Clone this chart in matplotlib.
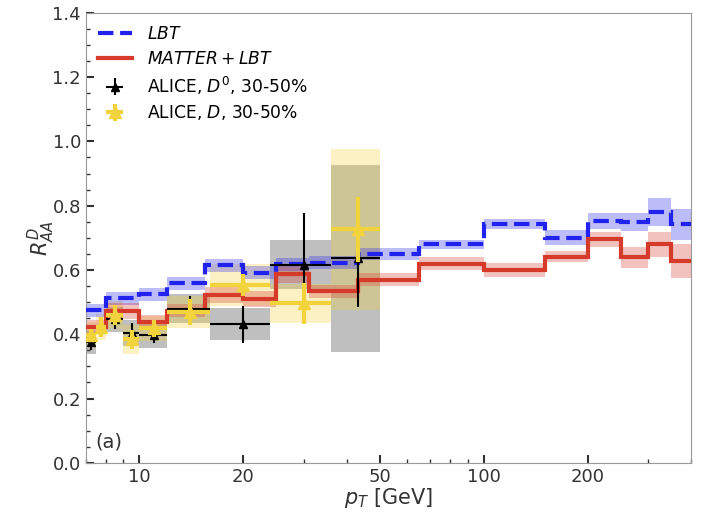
import numpy as np
import matplotlib.pyplot as plt
from matplotlib.ticker import FixedLocator, NullFormatter, MultipleLocator

# model bins (pT edges, GeV)
edges = np.array([7, 8, 10, 12, 15.5, 20, 25, 31, 43, 65, 100, 150, 200, 250, 300, 350, 400])

# LBT
lbt = np.array([0.475, 0.512, 0.525, 0.559, 0.615, 0.592, 0.618, 0.622, 0.649, 0.68,
                0.743, 0.701, 0.753, 0.749, 0.781, 0.742])
lbt_err = np.array([0.02, 0.02, 0.02, 0.02, 0.02, 0.02, 0.02, 0.02, 0.018, 0.014,
                    0.016, 0.022, 0.025, 0.027, 0.043, 0.049])

# MATTER+LBT
mlbt = np.array([0.423, 0.471, 0.439, 0.473, 0.522, 0.511, 0.586, 0.534, 0.570, 0.62,
                 0.60, 0.641, 0.695, 0.639, 0.68, 0.628])
mlbt_err = np.array([0.02, 0.025, 0.02, 0.02, 0.025, 0.025, 0.025, 0.02, 0.02, 0.021,
                     0.023, 0.017, 0.022, 0.034, 0.039, 0.054])

# ALICE D0 30-50%
d0_pt = np.array([7.25, 8.5, 9.5, 11, 14, 20, 30, 43])
d0_lo = np.array([7, 8, 9, 10, 12, 16, 24, 36])
d0_hi = np.array([7.5, 9, 10, 12, 16, 24, 36, 50])
d0_val = np.array([0.375, 0.446, 0.405, 0.397, 0.48, 0.431, 0.617, 0.636])
d0_stat = np.array([0.025, 0.03, 0.03, 0.025, 0.04, 0.057, 0.16, 0.15])
d0_sys = np.array([0.035, 0.04, 0.04, 0.04, 0.045, 0.05, 0.075, 0.29])

# ALICE D 30-50%
d_pt = np.array([7.25, 7.75, 8.5, 9.5, 11, 14, 20, 30, 43])
d_lo = np.array([7, 7.5, 8, 9, 10, 12, 16, 24, 36])
d_hi = np.array([7.5, 8, 9, 10, 12, 16, 24, 36, 50])
d_val = np.array([0.397, 0.423, 0.46, 0.384, 0.418, 0.47, 0.553, 0.496, 0.726])
d_stat = np.array([0.02, 0.03, 0.03, 0.03, 0.025, 0.04, 0.034, 0.065, 0.1])
d_sys = np.array([0.04, 0.04, 0.045, 0.045, 0.04, 0.05, 0.065, 0.06, 0.25])

blue = '#2222ee'
red = '#d63a2a'
gold = '#f2d33c'

fig = plt.figure(figsize=(7.04, 5.12), dpi=100)
ax = fig.add_axes([0.122, 0.096, 0.86, 0.879])
ax.set_xscale('log')

# data systematics boxes
ax.bar(d0_lo, 2 * d0_sys, width=d0_hi - d0_lo, bottom=d0_val - d0_sys, align='edge',
       color='gray', alpha=0.5, linewidth=0, zorder=1)
ax.bar(d_lo, 2 * d_sys, width=d_hi - d_lo, bottom=d_val - d_sys, align='edge',
       color=gold, alpha=0.3, linewidth=0, zorder=1)

# model bands
ax.stairs(lbt + lbt_err, edges, baseline=lbt - lbt_err, fill=True,
          color=blue, alpha=0.3, linewidth=0, zorder=2)
ax.stairs(mlbt + mlbt_err, edges, baseline=mlbt - mlbt_err, fill=True,
          color=red, alpha=0.3, linewidth=0, zorder=2)

ax.stairs(lbt, edges, baseline=None, color=blue, linestyle='--', linewidth=3,
          label='$LBT$', zorder=4)
ax.stairs(mlbt, edges, baseline=None, color=red, linewidth=3,
          label='$MATTER+LBT$', zorder=4)

ax.errorbar(d0_pt, d0_val, yerr=d0_stat, xerr=[d0_pt - d0_lo, d0_hi - d0_pt],
            fmt='^', color='k', ms=6, elinewidth=1.5, capsize=0, zorder=5,
            label='ALICE, $D^0$, 30-50%')
ax.errorbar(d_pt, d_val, yerr=d_stat, xerr=[d_pt - d_lo, d_hi - d_pt],
            fmt='^', color=gold, ms=9, elinewidth=3, capsize=0, zorder=6,
            label='ALICE, $D$, 30-50%')

ax.set_xlim(7, 400)
ax.set_ylim(0, 1.4)
ax.xaxis.set_major_locator(FixedLocator([10, 20, 50, 100, 200]))
ax.xaxis.set_major_formatter(plt.FixedFormatter(['10', '20', '50', '100', '200']))
ax.xaxis.set_minor_locator(FixedLocator([7, 8, 9, 30, 40, 60, 70, 80, 90, 300, 400]))
ax.xaxis.set_minor_formatter(NullFormatter())
ax.yaxis.set_major_locator(MultipleLocator(0.2))
ax.yaxis.set_minor_locator(MultipleLocator(0.05))
ax.tick_params(which='both', direction='in', colors='#333333', labelsize=13)
ax.tick_params(which='major', length=6, width=1.5)
ax.tick_params(which='minor', length=3, width=1)
for s in ax.spines.values():
    s.set_color('#999999')

ax.set_xlabel('$p_T$ [GeV]', fontsize=15, color='#333333', labelpad=0)
ax.set_ylabel('$R^D_{AA}$', fontsize=15, color='#333333', labelpad=-3)
ax.text(0.015, 0.035, '(a)', transform=ax.transAxes, fontsize=14, color='#333333')

ax.legend(loc='upper left', frameon=False, fontsize=12.3, handlelength=2.0,
          handletextpad=0.9, borderaxespad=0.3, labelspacing=0.4)

fig.savefig('out.png', dpi=100)
